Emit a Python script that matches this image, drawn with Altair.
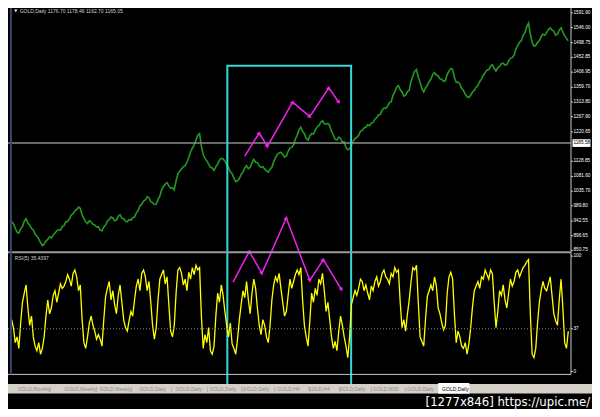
import json
import math
import altair as alt
import pandas as pd

# ---------------- data ----------------
BAR_STEP = 2  # one value every 2 daily bars

price_values = [
    940, 934, 920, 908, 905, 918, 925, 942, 950, 936, 930, 919, 915, 901, 895, 887,
    875, 866, 870, 880, 885, 893, 890, 899, 905, 912, 915, 914, 925, 928, 940, 941,
    950, 961, 965, 974, 978, 986, 982, 962, 950, 940, 935, 944, 940, 932, 930, 924,
    925, 914, 912, 924, 930, 942, 948, 955, 952, 943, 945, 957, 962, 951, 950, 942,
    940, 947, 945, 953, 955, 968, 975, 990, 995, 1005, 1008, 1018, 1015, 1003, 1000, 994,
    995, 1010, 1020, 1040, 1050, 1058, 1062, 1052, 1045, 1046, 1040, 1068, 1090, 1098, 1105, 1112,
    1115, 1125, 1140, 1158, 1170, 1180, 1195, 1210, 1215, 1175, 1150, 1138, 1130, 1120, 1110, 1108,
    1100, 1112, 1120, 1132, 1138, 1136, 1130, 1118, 1110, 1096, 1090, 1076, 1065, 1068, 1075, 1088,
    1095, 1108, 1115, 1106, 1110, 1124, 1135, 1126, 1125, 1114, 1110, 1112, 1105, 1099, 1095, 1104,
    1110, 1128, 1140, 1150, 1155, 1157, 1150, 1142, 1145, 1160, 1170, 1172, 1180, 1198, 1210, 1226,
    1235, 1222, 1215, 1200, 1195, 1208, 1215, 1214, 1225, 1236, 1240, 1250, 1255, 1246, 1245, 1247,
    1240, 1222, 1210, 1198, 1195, 1204, 1200, 1188, 1190, 1172, 1165, 1168, 1180, 1192, 1200, 1203,
    1210, 1222, 1225, 1233, 1235, 1243, 1240, 1248, 1250, 1260, 1265, 1274, 1275, 1288, 1295, 1294,
    1300, 1312, 1315, 1335, 1345, 1360, 1365, 1352, 1345, 1332, 1335, 1346, 1350, 1378, 1395, 1410,
    1415, 1392, 1375, 1356, 1345, 1358, 1365, 1378, 1385, 1400, 1405, 1398, 1395, 1386, 1385, 1378,
    1380, 1400, 1410, 1418, 1415, 1390, 1375, 1376, 1370, 1356, 1350, 1338, 1330, 1328, 1335, 1345,
    1350, 1360, 1365, 1378, 1385, 1398, 1405, 1414, 1415, 1426, 1430, 1418, 1410, 1421, 1425, 1433,
    1435, 1429, 1430, 1442, 1450, 1452, 1460, 1478, 1490, 1500, 1505, 1522, 1530, 1548, 1560, 1525,
    1500, 1488, 1490, 1500, 1505, 1518, 1525, 1522, 1530, 1540, 1545, 1538, 1535, 1522, 1525, 1538,
    1545, 1532, 1520, 1512, 1505,
]

rsi_values = [
    45, 38, 25, 30, 20, 42, 60, 68, 75, 55, 40, 48, 30, 22, 18, 25,
    15, 20, 30, 48, 62, 50, 55, 66, 70, 60, 68, 76, 72, 74, 78, 84,
    80, 74, 85, 88, 82, 70, 75, 45, 25, 20, 30, 42, 48, 40, 35, 28,
    32, 28, 22, 45, 65, 72, 78, 62, 70, 58, 50, 66, 75, 60, 45, 38,
    35, 44, 52, 48, 62, 74, 80, 70, 85, 88, 82, 70, 78, 60, 40, 28,
    38, 62, 80, 84, 88, 76, 82, 58, 35, 30, 40, 68, 88, 90, 85, 75,
    80, 70, 86, 80, 90, 84, 92, 88, 90, 48, 20, 32, 25, 38, 18, 15,
    22, 48, 68, 60, 75, 66, 52, 40, 30, 42, 24, 20, 15, 28, 45, 58,
    70, 64, 78, 62, 50, 68, 80, 72, 55, 40, 32, 45, 40, 30, 25, 40,
    62, 75, 82, 78, 85, 72, 60, 48, 52, 66, 80, 72, 78, 84, 88, 84,
    90, 62, 40, 30, 22, 44, 68, 60, 72, 66, 80, 76, 85, 70, 52, 60,
    45, 30, 20, 26, 18, 35, 48, 40, 30, 22, 12, 30, 58, 64, 70, 66,
    72, 80, 78, 70, 75, 68, 62, 74, 70, 78, 82, 74, 78, 85, 88, 82,
    80, 76, 85, 82, 90, 86, 88, 60, 38, 45, 35, 50, 62, 78, 90, 88,
    92, 60, 30, 26, 22, 45, 65, 70, 75, 70, 82, 74, 55, 50, 42, 36,
    40, 68, 82, 86, 80, 50, 25, 35, 30, 22, 20, 25, 15, 24, 38, 56,
    70, 74, 78, 72, 82, 80, 88, 84, 80, 88, 85, 60, 38, 52, 70, 66,
    75, 62, 55, 68, 80, 74, 78, 86, 88, 82, 86, 90, 92, 95, 97, 50,
    15, 12, 20, 42, 60, 70, 78, 72, 70, 76, 82, 66, 50, 44, 40, 62,
    80, 55, 25, 20, 35,
]

date_labels = [
    "2 Mar 2009", "6 Apr 2009", "20 May 2009", "2 Jul 2009", "14 Aug 2009",
    "29 Sep 2009", "12 Nov 2009", "29 Dec 2009", "12 Feb 2010", "30 Mar 2010",
    "13 May 2010", "29 Jun 2010", "11 Aug 2010", "24 Sep 2010", "9 Nov 2010",
    "23 Dec 2010", "7 Feb 2011", "23 Mar 2011", "6 May 2011", "21 Jun 2011",
]
BARS_PER_LABEL = 32

price_ticks = [1591.90, 1546.00, 1498.75, 1452.85, 1406.95, 1359.70, 1313.80,
               1267.90, 1220.65, 1128.85, 1081.60, 1035.70, 989.80, 942.55,
               896.65, 850.75]
rsi_ticks = [100, 37, 0]
rsi_level = 37
hline_price = 1185.58

# magenta hand-drawn zigzags (bar, value)
price_zig_bar = [258, 274, 283, 311, 330, 351, 362]
price_zig_val = [1145, 1217, 1175, 1313, 1268, 1358, 1313]
rsi_zig_bar = [245, 263, 277, 304, 330, 345, 365]
rsi_zig_val = [77.5, 104, 85, 133, 79, 97, 71]

# cyan box (bars / top price)
box_bar = [238.7, 375.7]
box_top = 1427

header_text = "GOLD,Daily  1176.70 1178.46 1162.70 1165.05"
rsi_header = "RSI(5) 35.4397"
tab_names = ["GOLD,Monthly", "GOLD,Weekly", "GOLD,Weekly", "GOLD,Daily", "GOLD,Daily",
             "GOLD,Daily", "GOLD,Daily", "GOLD,H4", "GOLD,H4", "GOLD,Daily",
             "GOLD,M30", "GOLD,Daily", "GOLD,Daily"]
watermark = "[1277x846] https://upic.me/"

# ---------------- layout ----------------
SX = 584 / 600
SY = 401 / 417


def px(v):
    return round(v * SX, 1)


def py(v):
    return round(v * SY, 1)


W = 563
H = py(381)
X_DOMAIN = [-4, 619]
P_DOMAIN = [848, 1607]
P_RANGE = [py(253), 0]
R_RANGE = [py(378), py(258)]

x_scale = alt.Scale(domain=X_DOMAIN, range=[0, W], nice=False, zero=False)
p_scale = alt.Scale(domain=P_DOMAIN, range=P_RANGE, nice=False, zero=False)
r_scale = alt.Scale(domain=[0, 100], range=R_RANGE, nice=False, zero=False)

FONT = "Liberation Sans Narrow, Liberation Sans, sans-serif"
MAG = "#ee22ee"
AXIS_C = "#c8c8c8"
LBL = 4.7

df = pd.DataFrame({
    "bar": [i * BAR_STEP for i in range(len(price_values))],
    "price": price_values,
    "rsi": rsi_values,
})
one = pd.DataFrame({"k": [0]})


def to_px_x(b):
    return (b - X_DOMAIN[0]) / (X_DOMAIN[1] - X_DOMAIN[0]) * W


def to_px_p(v):
    return P_RANGE[0] + (v - P_DOMAIN[0]) / (P_DOMAIN[1] - P_DOMAIN[0]) * (P_RANGE[1] - P_RANGE[0])


def to_px_r(v):
    return R_RANGE[0] + v / 100 * (R_RANGE[1] - R_RANGE[0])


def arrow_df(bars, vals, conv):
    rows = []
    for i in range(1, len(bars)):
        dx = to_px_x(bars[i]) - to_px_x(bars[i - 1])
        dy = conv(vals[i]) - conv(vals[i - 1])
        ang = math.degrees(math.atan2(dx, -dy)) % 360
        rows.append({"bar": bars[i], "val": vals[i], "ang": ang})
    return pd.DataFrame(rows)


hidden_y_axis = alt.Axis(orient="right", labels=False, ticks=False, domain=False,
                         grid=False, title=None)

label_expr = json.dumps(date_labels) + f"[round(datum.value/{BARS_PER_LABEL})]"
x_axis = alt.Axis(values=[k * BARS_PER_LABEL for k in range(len(date_labels))],
                  labelExpr=label_expr, labelAlign="left", labelFontSize=5,
                  labelFont=FONT, labelColor="#ffffff", tickColor=AXIS_C,
                  tickSize=3, domain=False, grid=False, labelPadding=1,
                  labelOverlap=False, labelFlush=False, labelBound=False,
                  title=None, labelBaseline="top")

# ---------------- price panel ----------------
price_line = alt.Chart(df).mark_line(color="#229922", strokeWidth=1.6).encode(
    x=alt.X("bar:Q", scale=x_scale, axis=x_axis),
    y=alt.Y("price:Q", scale=p_scale, axis=hidden_y_axis),
)

pt = pd.DataFrame({"t": price_ticks})
p_tick_marks = alt.Chart(pt).mark_rule(color=AXIS_C, strokeWidth=1).encode(
    y="t:Q", x=alt.value(W), x2=alt.value(W + 2))
p_tick_labels = alt.Chart(pt).mark_text(color="#ffffff", fontSize=LBL, font=FONT,
                                        align="left", baseline="middle").encode(
    y="t:Q", x=alt.value(W + 2.5), text=alt.Text("t:Q", format=".2f"))

hline = alt.Chart(one).mark_rule(color="#8c8c8c", strokeWidth=1.5).encode(
    y=alt.datum(hline_price), x=alt.value(0), x2=alt.value(W))

hbox = alt.Chart(one).mark_rect(color="#ffffff").encode(
    y=alt.datum(hline_price + 12), y2=alt.datum(hline_price - 12),
    x=alt.value(W + 1.5), x2=alt.value(W + 19.5))
htext = alt.Chart(one).mark_text(text=f"{hline_price:.2f}", color="#000000",
                                 fontSize=LBL, font=FONT, align="left",
                                 baseline="middle").encode(
    y=alt.datum(hline_price), x=alt.value(W + 2.5))

box = alt.Chart(one).mark_rect(filled=False, stroke="#33d8d8", strokeWidth=2).encode(
    x=alt.datum(box_bar[0]), x2=alt.datum(box_bar[1]),
    y=alt.datum(box_top), y2=alt.value(py(392)))

pz = pd.DataFrame({"bar": price_zig_bar, "val": price_zig_val, "o": range(len(price_zig_bar))})
pz_line = alt.Chart(pz).mark_line(color=MAG, strokeWidth=1.5).encode(
    x="bar:Q", y="val:Q", order="o:Q")
pz_arrow = alt.Chart(arrow_df(price_zig_bar, price_zig_val, to_px_p)).mark_point(
    shape="triangle-up", filled=True, size=20, color=MAG, opacity=1).encode(
    x="bar:Q", y="val:Q", angle=alt.Angle("ang:Q", scale=None))

price_group = alt.layer(price_line, hline, box, pz_line, pz_arrow,
                        p_tick_marks, p_tick_labels, hbox, htext)

# ---------------- RSI panel ----------------
rsi_line = alt.Chart(df).mark_line(color="#ffff00", strokeWidth=1.3).encode(
    x=alt.X("bar:Q", scale=x_scale, axis=None),
    y=alt.Y("rsi:Q", scale=r_scale, axis=hidden_y_axis),
)
level = alt.Chart(one).mark_rule(color="#8c8c8c", strokeWidth=1, strokeDash=[1, 2]).encode(
    y=alt.datum(rsi_level), x=alt.value(0), x2=alt.value(W))

rt = pd.DataFrame({"t": rsi_ticks})
r_tick_marks = alt.Chart(rt).mark_rule(color=AXIS_C, strokeWidth=1).encode(
    y="t:Q", x=alt.value(W), x2=alt.value(W + 2))
r_tick_labels = alt.Chart(rt).mark_text(color="#ffffff", fontSize=LBL, font=FONT,
                                        align="left", baseline="middle").encode(
    y="t:Q", x=alt.value(W + 2.5), text=alt.Text("t:Q", format="d"))

rz = pd.DataFrame({"bar": rsi_zig_bar, "val": rsi_zig_val, "o": range(len(rsi_zig_bar))})
rz_line = alt.Chart(rz).mark_line(color=MAG, strokeWidth=1.5).encode(
    x="bar:Q", y="val:Q", order="o:Q")
rz_arrow = alt.Chart(arrow_df(rsi_zig_bar, rsi_zig_val, to_px_r)).mark_point(
    shape="triangle-up", filled=True, size=20, color=MAG, opacity=1).encode(
    x="bar:Q", y="val:Q", angle=alt.Angle("ang:Q", scale=None))

rsi_group = alt.layer(rsi_line, level, rz_line, rz_arrow, r_tick_marks, r_tick_labels)

# ---------------- frame & decorations ----------------
deco = []
deco.append(alt.Chart(one).mark_rule(color=AXIS_C, strokeWidth=1).encode(
    x=alt.value(W), y=alt.value(0), y2=alt.value(H)))
deco.append(alt.Chart(one).mark_rule(color=AXIS_C, strokeWidth=1).encode(
    y=alt.value(H), x=alt.value(0), x2=alt.value(W)))
deco.append(alt.Chart(one).mark_rule(color="#9a9a9a", strokeWidth=2).encode(
    y=alt.value(py(254)), x=alt.value(0), x2=alt.value(W)))
deco.append(alt.Chart(one).mark_rule(color="#3a4a6e", strokeWidth=2).encode(
    x=alt.value(px(3)), y=alt.value(0), y2=alt.value(H)))
deco.append(alt.Chart(one).mark_point(shape="triangle-down", filled=True, size=10,
                                      color="#ffffff", opacity=1).encode(
    x=alt.value(px(8)), y=alt.value(py(3))))
deco.append(alt.Chart(one).mark_text(text=header_text, color="#d0d0d0", fontSize=5,
                                     font=FONT, align="left", baseline="middle").encode(
    x=alt.value(px(12)), y=alt.value(py(3.5))))
deco.append(alt.Chart(one).mark_text(text=rsi_header, color="#d0d0d0", fontSize=5,
                                     font=FONT, align="left", baseline="middle").encode(
    x=alt.value(px(7)), y=alt.value(py(259.5))))

# tab bar
deco.append(alt.Chart(one).mark_rect(color="#d4d0c8").encode(
    x=alt.value(0), x2=alt.value(px(600)), y=alt.value(py(391)), y2=alt.value(py(401))))
tab_x = [10, 58, 94, 135, 172, 207, 241, 277, 308, 340, 375, 410, 446]
for i, (name, tx) in enumerate(zip(tab_names, tab_x)):
    active = i == len(tab_names) - 1
    if active:
        deco.append(alt.Chart(one).mark_rect(color="#ffffff").encode(
            x=alt.value(px(tx - 4)), x2=alt.value(px(tx + 28)),
            y=alt.value(py(390)), y2=alt.value(py(401))))
    else:
        deco.append(alt.Chart(one).mark_text(text="|", color="#808080", fontSize=5,
                                             font=FONT, align="center",
                                             baseline="middle").encode(
            x=alt.value(px(tx + 33)), y=alt.value(py(396))))
    deco.append(alt.Chart(one).mark_text(text=name, color="#000000" if active else "#8a8a8a",
                                         fontSize=5, font=FONT, align="left",
                                         baseline="middle").encode(
        x=alt.value(px(tx)), y=alt.value(py(396))))

deco.append(alt.Chart(one).mark_text(text=watermark, color="#ffffff", fontSize=13,
                                     font="Liberation Sans Narrow, DejaVu Sans Condensed, sans-serif",
                                     align="right", baseline="alphabetic").encode(
    x=alt.value(px(598)), y=alt.value(py(414))))

chart = alt.layer(price_group, rsi_group, *deco).resolve_scale(y="independent").properties(
    width=W, height=H,
    padding={"left": 0, "top": 0, "right": round(584 - W, 1), "bottom": round(401 - H, 1)},
    autosize=alt.AutoSizeParams(type="none"),
    background="#000000",
).configure_view(stroke=None)

chart.save("out.html", embed_options={"renderer": "svg", "actions": False})
